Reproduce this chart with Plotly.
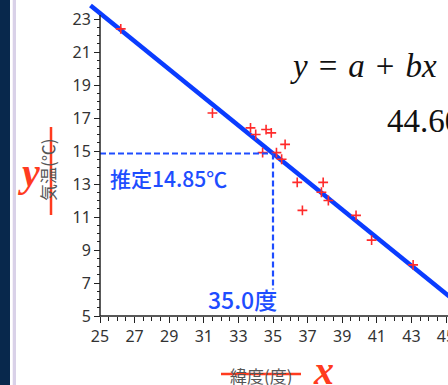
import plotly.graph_objects as go

# ---- data ----
latitude = [26.2, 31.5, 33.7, 34.0, 34.6, 34.9, 35.7, 34.4, 35.2, 35.5,
            36.4, 37.9, 36.7, 37.8, 38.2, 39.8, 40.7, 43.1]
temperature = [22.4, 17.3, 16.4, 16.0, 16.3, 16.1, 15.4, 14.9, 14.9, 14.5,
               13.1, 13.1, 11.4, 12.5, 12.0, 11.1, 9.6, 8.1]
coef_a = 44.60
coef_b = -0.85
x_est = 35.0
y_est = 14.85
line_x = [24.45, 46.0]
x_ticks = list(range(25, 46, 2))
y_ticks = list(range(5, 24, 2))

# ---- geometry ----
W, H = 448, 385
ML, MR, MT, MB = 80, 0, 0, 69
PW, PH = W - ML - MR, H - MT - MB
x_px_per = 17.3
y_px_per = 16.5
x_range = [25 - (100 - ML) / x_px_per, 45 + (W - 446) / x_px_per]
y_range = [5, 23 + 19 / y_px_per]

def px(xp):
    return (xp - ML) / PW

def py(yp):
    return (H - MB - yp) / PH

BLUE = '#0a3cff'
DBLUE = '#1e4dff'
RED = '#ff3b1f'

fig = go.Figure()

# regression line
fig.add_trace(go.Scatter(x=line_x, y=[coef_a + coef_b * v for v in line_x],
                         mode='lines', line=dict(color=BLUE, width=4.5),
                         hoverinfo='skip', showlegend=False))
# data points
fig.add_trace(go.Scatter(x=latitude, y=temperature, mode='markers',
                         marker=dict(symbol='cross-thin', size=7,
                                     line=dict(color='#ff2a2a', width=1.6)),
                         showlegend=False))
# dashed guides
fig.add_trace(go.Scatter(x=[25, x_est], y=[y_est, y_est], mode='lines',
                         line=dict(color=DBLUE, width=2.2, dash='6px,3px'),
                         showlegend=False, hoverinfo='skip'))
fig.add_trace(go.Scatter(x=[x_est, x_est], y=[y_est, 6.6], mode='lines',
                         line=dict(color=DBLUE, width=2.2, dash='6px,3px'),
                         showlegend=False, hoverinfo='skip'))

minor_x = [25 + 0.5 * i for i in range(41)]
minor_y = [5 + 0.5 * i for i in range(37)]

tickfont = dict(family='Noto Sans, DejaVu Sans, sans-serif', size=16, color='#333')

fig.update_layout(
    width=W, height=H,
    margin=dict(l=ML, r=MR, t=MT, b=MB, autoexpand=False),
    paper_bgcolor='white', plot_bgcolor='white',
    xaxis=dict(range=x_range, tickmode='array', tickvals=x_ticks, automargin=False,
               ticklabeloverflow='allow',
               ticks='outside', ticklen=6, tickwidth=1.3, tickcolor='#222',
               showline=False, showgrid=False, zeroline=False,
               tickfont=tickfont,
               minor=dict(tickmode='array', tickvals=minor_x, ticks='outside',
                          ticklen=3.5, tickwidth=1.2, tickcolor='#222', showgrid=False)),
    yaxis=dict(range=y_range, tickmode='array', tickvals=y_ticks, automargin=False,
               ticklabeloverflow='allow',
               anchor='free', position=px(100),
               ticks='outside', ticklen=6, tickwidth=1.3, tickcolor='#222',
               showline=False, showgrid=False, zeroline=False,
               tickfont=tickfont,
               minor=dict(tickmode='array', tickvals=minor_y, ticks='outside',
                          ticklen=3.5, tickwidth=1.2, tickcolor='#222', showgrid=False)),
)

shapes = [
    # left decoration strips
    dict(type='rect', xref='paper', yref='paper', x0=px(0), x1=px(10),
         y0=py(H), y1=py(0), fillcolor='#08284c', line=dict(width=0), layer='below'),
    dict(type='rect', xref='paper', yref='paper', x0=px(12.7), x1=px(16),
         y0=py(H), y1=py(0), fillcolor='#d9d1e8', line=dict(width=0), layer='below'),
    # axis spines
    dict(type='line', xref='paper', yref='paper', x0=px(100), x1=1, y0=0, y1=0,
         line=dict(color='#222', width=1.5)),
    dict(type='line', xref='paper', yref='paper', x0=px(100), x1=px(100), y0=0, y1=py(15),
         line=dict(color='#222', width=1.5)),
    # red strike lines over axis titles
    dict(type='line', xref='paper', yref='paper', x0=px(221), x1=px(301), y0=py(374), y1=py(374),
         line=dict(color=RED, width=2.5)),
    dict(type='line', xref='paper', yref='paper', x0=px(51), x1=px(51), y0=py(127), y1=py(215),
         line=dict(color=RED, width=2.5)),
]
fig.update_layout(shapes=shapes)

SP = '\u2004'
ann = [
    dict(x=25.45, y=13.35, xref='x', yref='y', text='推定14.85℃', showarrow=False,
         xanchor='left', yanchor='middle',
         font=dict(family='Noto Sans CJK JP', size=21, color=DBLUE, weight=500)),
    dict(x=33.25, y=6.05, xref='x', yref='y', text='35.0度', showarrow=False,
         xanchor='center', yanchor='middle',
         font=dict(family='Noto Sans CJK JP', size=23, color=DBLUE, weight=500)),
    dict(x=px(261), y=py(375), xref='paper', yref='paper', text='緯度(度)', showarrow=False,
         xanchor='center', yanchor='middle',
         font=dict(family='Noto Sans CJK JP', size=17, color='#555')),
    dict(x=px(47), y=py(170), xref='paper', yref='paper', text='気温(℃)', showarrow=False,
         xanchor='center', yanchor='middle', textangle=-90,
         font=dict(family='Noto Sans CJK JP', size=17, color='#555')),
    dict(x=px(323), y=py(370), xref='paper', yref='paper', text='<i><b>x</b></i>', showarrow=False,
         xanchor='center', yanchor='middle',
         font=dict(family='Liberation Serif', size=40, color=RED)),
    dict(x=px(29), y=py(172), xref='paper', yref='paper', text='<i><b>y</b></i>', showarrow=False,
         xanchor='center', yanchor='middle',
         font=dict(family='Liberation Serif', size=40, color=RED)),
    dict(x=px(288), y=py(66), xref='paper', yref='paper',
         text=f'<i>y</i>{SP}={SP}<i>a</i>{SP}+{SP}<i>bx</i>', showarrow=False,
         xanchor='left', yanchor='middle',
         font=dict(family='Liberation Serif', size=33, color='#111')),
    dict(x=px(385), y=py(121), xref='paper', yref='paper',
         text=f'{coef_a:.2f}', showarrow=False,
         xanchor='left', yanchor='middle',
         font=dict(family='Liberation Serif', size=33, color='#111')),
]
fig.update_layout(annotations=ann)

fig.write_html('out.html', config={'displayModeBar': False},
               post_script="document.body.style.margin='0';document.body.style.overflow='hidden';")
